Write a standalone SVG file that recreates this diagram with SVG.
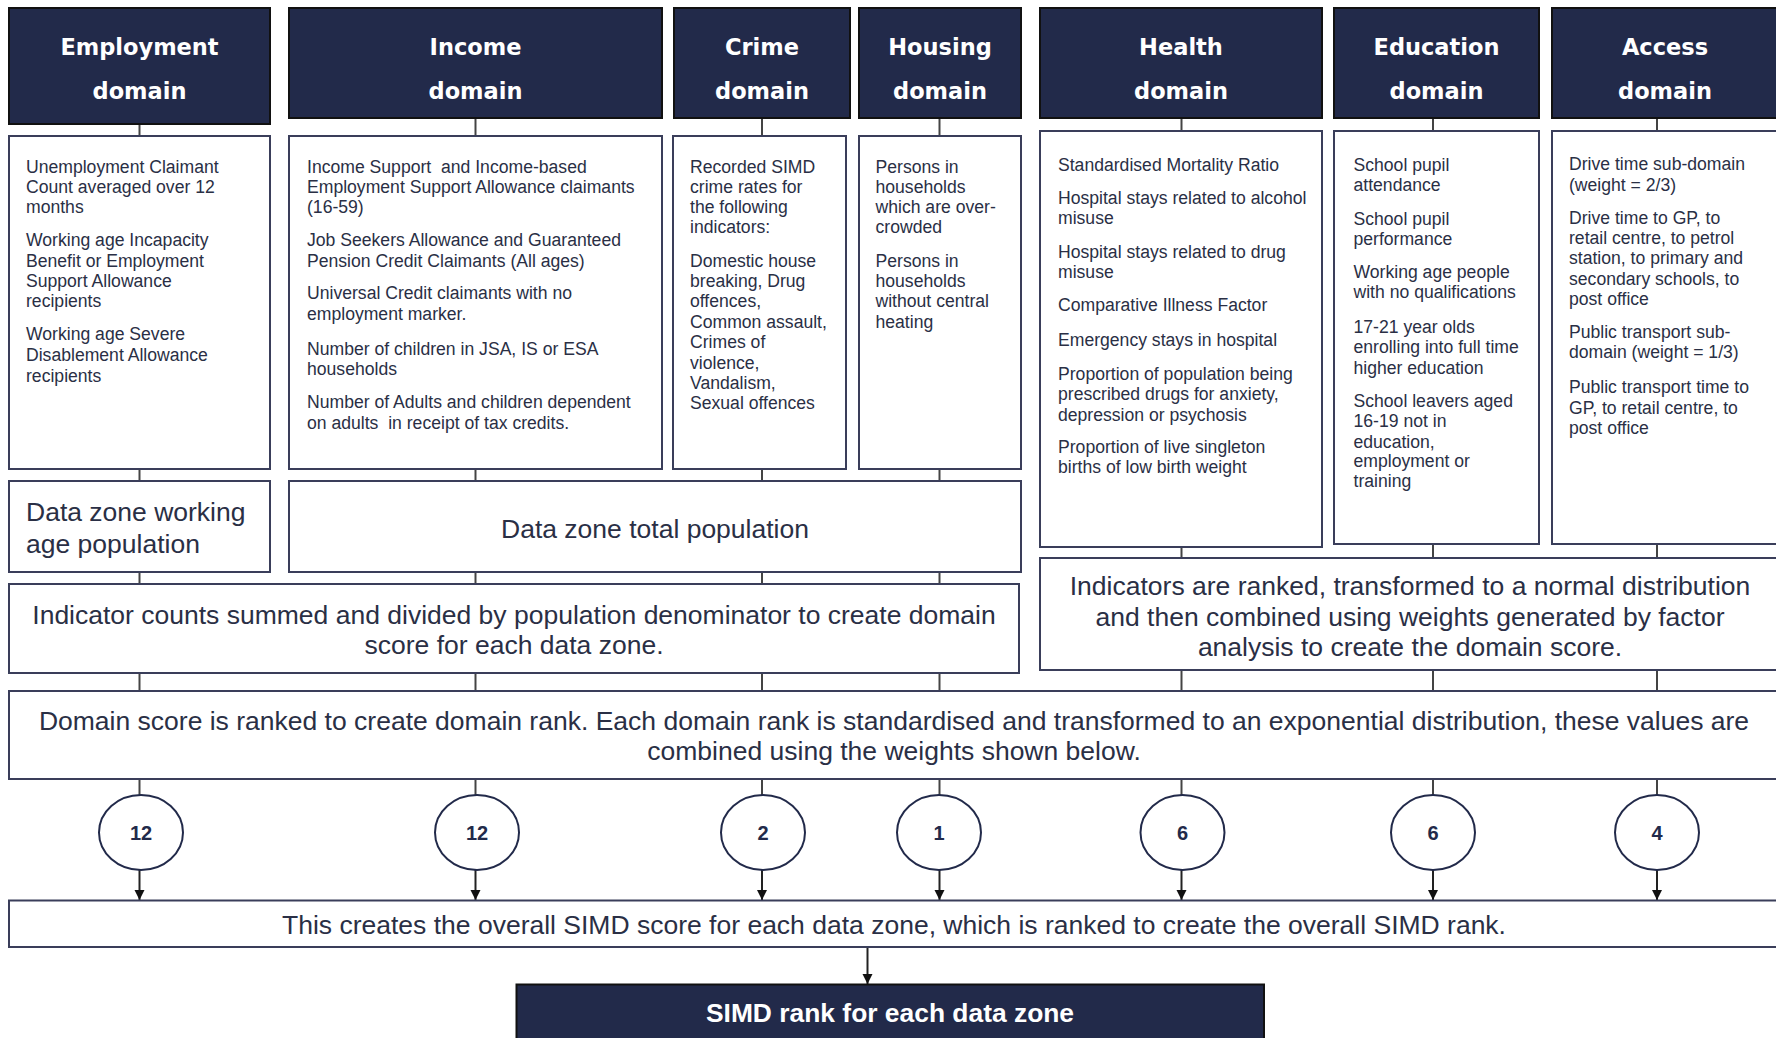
<svg xmlns="http://www.w3.org/2000/svg" width="1776" height="1038" viewBox="0 0 1776 1038">
<style>
.hdr{fill:#222a4a;stroke:#111;stroke-width:2}
.box{fill:#fff;stroke:#3a3e5a;stroke-width:2}
.ht{font-family:"DejaVu Sans",Verdana,sans-serif;font-weight:bold;font-size:22.5px;fill:#fff;text-anchor:middle}
.ct{font-family:"Liberation Sans",Arial,sans-serif;font-size:17.6px;fill:#2a2f45}
.mt{font-family:"Liberation Sans",Arial,sans-serif;font-size:26.5px;fill:#2a2f45}
.mc{text-anchor:middle}
.num{font-family:"Liberation Sans",Arial,sans-serif;font-weight:bold;font-size:20px;fill:#222a4a;text-anchor:middle}
.ln{stroke:#444;stroke-width:2;fill:none}
.ar{stroke:#222;stroke-width:2;fill:none;marker-end:url(#arr)}
.cir{fill:#fff;stroke:#222a4a;stroke-width:2}
.rt{font-family:"Liberation Sans",Arial,sans-serif;font-weight:bold;font-size:26.4px;fill:#fff;text-anchor:middle}
</style>
<defs>
<marker id="arr" markerUnits="userSpaceOnUse" markerWidth="10" markerHeight="12" refX="10" refY="5" orient="auto" viewBox="0 0 10 10">
<path d="M0,0 L10,5 L0,10 z" fill="#111"/>
</marker>
</defs>
<rect width="1776" height="1038" fill="#fff"/>

<g id="connectors">
<line class="ln" x1="139.5" y1="124" x2="139.5" y2="136"/>
<line class="ln" x1="139.5" y1="469" x2="139.5" y2="481"/>
<line class="ln" x1="139.5" y1="572" x2="139.5" y2="584"/>
<line class="ln" x1="139.5" y1="673" x2="139.5" y2="691"/>
<line class="ln" x1="139.5" y1="779" x2="139.5" y2="795"/>
<line class="ar" x1="139.5" y1="870" x2="139.5" y2="900"/>
<line class="ln" x1="475.5" y1="118" x2="475.5" y2="136"/>
<line class="ln" x1="475.5" y1="469" x2="475.5" y2="481"/>
<line class="ln" x1="475.5" y1="572" x2="475.5" y2="584"/>
<line class="ln" x1="475.5" y1="673" x2="475.5" y2="691"/>
<line class="ln" x1="475.5" y1="779" x2="475.5" y2="795"/>
<line class="ar" x1="475.5" y1="870" x2="475.5" y2="900"/>
<line class="ln" x1="762" y1="118" x2="762" y2="136"/>
<line class="ln" x1="762" y1="469" x2="762" y2="481"/>
<line class="ln" x1="762" y1="572" x2="762" y2="584"/>
<line class="ln" x1="762" y1="673" x2="762" y2="691"/>
<line class="ln" x1="762" y1="779" x2="762" y2="795"/>
<line class="ar" x1="762" y1="870" x2="762" y2="900"/>
<line class="ln" x1="939.5" y1="118" x2="939.5" y2="136"/>
<line class="ln" x1="939.5" y1="469" x2="939.5" y2="481"/>
<line class="ln" x1="939.5" y1="572" x2="939.5" y2="584"/>
<line class="ln" x1="939.5" y1="673" x2="939.5" y2="691"/>
<line class="ln" x1="939.5" y1="779" x2="939.5" y2="795"/>
<line class="ar" x1="939.5" y1="870" x2="939.5" y2="900"/>
<line class="ln" x1="1181.5" y1="118" x2="1181.5" y2="131"/>
<line class="ln" x1="1181.5" y1="547" x2="1181.5" y2="558"/>
<line class="ln" x1="1181.5" y1="670" x2="1181.5" y2="691"/>
<line class="ln" x1="1181.5" y1="779" x2="1181.5" y2="795"/>
<line class="ar" x1="1181.5" y1="870" x2="1181.5" y2="900"/>
<line class="ln" x1="1433" y1="118" x2="1433" y2="131"/>
<line class="ln" x1="1433" y1="544" x2="1433" y2="558"/>
<line class="ln" x1="1433" y1="670" x2="1433" y2="691"/>
<line class="ln" x1="1433" y1="779" x2="1433" y2="795"/>
<line class="ar" x1="1433" y1="870" x2="1433" y2="900"/>
<line class="ln" x1="1657" y1="118" x2="1657" y2="131"/>
<line class="ln" x1="1657" y1="544" x2="1657" y2="558"/>
<line class="ln" x1="1657" y1="670" x2="1657" y2="691"/>
<line class="ln" x1="1657" y1="779" x2="1657" y2="795"/>
<line class="ar" x1="1657" y1="870" x2="1657" y2="900"/>
<line class="ar" x1="867.5" y1="947" x2="867.5" y2="984"/>
</g>

<g id="employment-header"><rect class="hdr" x="9" y="8" width="261" height="116"/><text class="ht" x="139.5" y="55">Employment</text><text class="ht" x="139.5" y="99">domain</text></g>
<g id="income-header"><rect class="hdr" x="289" y="8" width="373" height="110"/><text class="ht" x="475.5" y="55">Income</text><text class="ht" x="475.5" y="99">domain</text></g>
<g id="crime-header"><rect class="hdr" x="674" y="8" width="176" height="110"/><text class="ht" x="762" y="55">Crime</text><text class="ht" x="762" y="99">domain</text></g>
<g id="housing-header"><rect class="hdr" x="859" y="8" width="162" height="110"/><text class="ht" x="940" y="55">Housing</text><text class="ht" x="940" y="99">domain</text></g>
<g id="health-header"><rect class="hdr" x="1040" y="8" width="282" height="110"/><text class="ht" x="1181" y="55">Health</text><text class="ht" x="1181" y="99">domain</text></g>
<g id="education-header"><rect class="hdr" x="1334" y="8" width="205" height="110"/><text class="ht" x="1436.5" y="55">Education</text><text class="ht" x="1436.5" y="99">domain</text></g>
<g id="access-header"><rect class="hdr" x="1552" y="8" width="240" height="110"/><text class="ht" x="1665" y="55">Access</text><text class="ht" x="1665" y="99">domain</text></g>

<g id="employment-indicators"><rect class="box" x="9" y="136" width="261" height="333"/>
<text class="ct" x="26"><tspan x="26" y="172.5">Unemployment Claimant</tspan><tspan x="26" y="192.9">Count averaged over 12</tspan><tspan x="26" y="213.3">months</tspan><tspan x="26" y="246.1">Working age Incapacity</tspan><tspan x="26" y="266.5">Benefit or Employment</tspan><tspan x="26" y="286.9">Support Allowance</tspan><tspan x="26" y="307.3">recipients</tspan><tspan x="26" y="340.1">Working age Severe</tspan><tspan x="26" y="360.5">Disablement Allowance</tspan><tspan x="26" y="382">recipients</tspan></text></g>

<g id="income-indicators"><rect class="box" x="289" y="136" width="373" height="333"/>
<text class="ct" x="307" xml:space="preserve"><tspan x="307" y="172.5">Income Support  and Income-based</tspan><tspan x="307" y="192.9">Employment Support Allowance claimants</tspan><tspan x="307" y="213.3">(16-59)</tspan><tspan x="307" y="246.1">Job Seekers Allowance and Guaranteed</tspan><tspan x="307" y="266.5">Pension Credit Claimants (All ages)</tspan><tspan x="307" y="299.4">Universal Credit claimants with no</tspan><tspan x="307" y="319.8">employment marker.</tspan><tspan x="307" y="354.9">Number of children in JSA, IS or ESA</tspan><tspan x="307" y="375.3">households</tspan><tspan x="307" y="408.1">Number of Adults and children dependent</tspan><tspan x="307" y="428.5">on adults  in receipt of tax credits.</tspan></text></g>

<g id="crime-indicators"><rect class="box" x="673" y="136" width="173" height="333"/>
<text class="ct" x="690"><tspan x="690" y="172.5">Recorded SIMD</tspan><tspan x="690" y="192.9">crime rates for</tspan><tspan x="690" y="213.3">the following</tspan><tspan x="690" y="232.5">indicators:</tspan><tspan x="690" y="266.5">Domestic house</tspan><tspan x="690" y="286.9">breaking, Drug</tspan><tspan x="690" y="307.3">offences,</tspan><tspan x="690" y="327.7">Common assault,</tspan><tspan x="690" y="348.1">Crimes of</tspan><tspan x="690" y="368.5">violence,</tspan><tspan x="690" y="388.9">Vandalism,</tspan><tspan x="690" y="409.2">Sexual offences</tspan></text></g>

<g id="housing-indicators"><rect class="box" x="859" y="136" width="162" height="333"/>
<text class="ct" x="875.5"><tspan x="875.5" y="172.5">Persons in</tspan><tspan x="875.5" y="192.9">households</tspan><tspan x="875.5" y="213.3">which are over-</tspan><tspan x="875.5" y="232.5">crowded</tspan><tspan x="875.5" y="266.5">Persons in</tspan><tspan x="875.5" y="286.9">households</tspan><tspan x="875.5" y="307.3">without central</tspan><tspan x="875.5" y="327.7">heating</tspan></text></g>

<g id="health-indicators"><rect class="box" x="1040" y="131" width="282" height="416"/>
<text class="ct" x="1058"><tspan x="1058" y="171.4">Standardised Mortality Ratio</tspan><tspan x="1058" y="204.2">Hospital stays related to alcohol</tspan><tspan x="1058" y="223.5">misuse</tspan><tspan x="1058" y="257.5">Hospital stays related to drug</tspan><tspan x="1058" y="277.8">misuse</tspan><tspan x="1058" y="310.7">Comparative Illness Factor</tspan><tspan x="1058" y="345.8">Emergency stays in hospital</tspan><tspan x="1058" y="379.8">Proportion of population being</tspan><tspan x="1058" y="400.2">prescribed drugs for anxiety,</tspan><tspan x="1058" y="420.6">depression or psychosis</tspan><tspan x="1058" y="453.4">Proportion of live singleton</tspan><tspan x="1058" y="472.7">births of low birth weight</tspan></text></g>

<g id="education-indicators"><rect class="box" x="1334" y="131" width="205" height="413"/>
<text class="ct" x="1353.5"><tspan x="1353.5" y="171.4">School pupil</tspan><tspan x="1353.5" y="190.6">attendance</tspan><tspan x="1353.5" y="224.6">School pupil</tspan><tspan x="1353.5" y="245">performance</tspan><tspan x="1353.5" y="277.8">Working age people</tspan><tspan x="1353.5" y="298.2">with no qualifications</tspan><tspan x="1353.5" y="333.3">17-21 year olds</tspan><tspan x="1353.5" y="352.6">enrolling into full time</tspan><tspan x="1353.5" y="374.1">higher education</tspan><tspan x="1353.5" y="407">School leavers aged</tspan><tspan x="1353.5" y="427.4">16-19 not in</tspan><tspan x="1353.5" y="447.8">education,</tspan><tspan x="1353.5" y="467">employment or</tspan><tspan x="1353.5" y="487.4">training</tspan></text></g>

<g id="access-indicators"><rect class="box" x="1552" y="131" width="240" height="413"/>
<text class="ct" x="1569"><tspan x="1569" y="170.2">Drive time sub-domain</tspan><tspan x="1569" y="190.6">(weight = 2/3)</tspan><tspan x="1569" y="223.5">Drive time to GP, to</tspan><tspan x="1569" y="243.9">retail centre, to petrol</tspan><tspan x="1569" y="264.3">station, to primary and</tspan><tspan x="1569" y="284.6">secondary schools, to</tspan><tspan x="1569" y="305">post office</tspan><tspan x="1569" y="337.9">Public transport sub-</tspan><tspan x="1569" y="358.3">domain (weight = 1/3)</tspan><tspan x="1569" y="393.4">Public transport time to</tspan><tspan x="1569" y="413.8">GP, to retail centre, to</tspan><tspan x="1569" y="434.2">post office</tspan></text></g>

<g id="working-age-population"><rect class="box" x="9" y="481" width="261" height="91"/>
<text class="mt" x="26"><tspan x="26" y="521">Data zone working</tspan><tspan x="26" y="553">age population</tspan></text></g>

<g id="total-population"><rect class="box" x="289" y="481" width="732" height="91"/>
<text class="mt mc" x="655" y="538">Data zone total population</text></g>

<g id="indicator-counts"><rect class="box" x="9" y="584" width="1010" height="89"/>
<text class="mt mc"><tspan x="514" y="624">Indicator counts summed and divided by population denominator to create domain</tspan><tspan x="514" y="653.5">score for each data zone.</tspan></text></g>

<g id="indicators-ranked"><rect class="box" x="1040" y="558" width="752" height="112"/>
<text class="mt mc"><tspan x="1410" y="594.5">Indicators are ranked, transformed to a normal distribution</tspan><tspan x="1410" y="625.5">and then combined using weights generated by factor</tspan><tspan x="1410" y="655.5">analysis to create the domain score.</tspan></text></g>

<g id="domain-score"><rect class="box" x="9" y="691" width="1783" height="88"/>
<text class="mt mc"><tspan x="894" y="729.5">Domain score is ranked to create domain rank. Each domain rank is standardised and transformed to an exponential distribution, these values are</tspan><tspan x="894" y="760">combined using the weights shown below.</tspan></text></g>

<g id="weight-employment"><ellipse class="cir" cx="141" cy="832.5" rx="42" ry="37.5"/><text class="num" x="141" y="839.5">12</text></g>
<g id="weight-income"><ellipse class="cir" cx="477" cy="832.5" rx="42" ry="37.5"/><text class="num" x="477" y="839.5">12</text></g>
<g id="weight-crime"><ellipse class="cir" cx="763" cy="832.5" rx="42" ry="37.5"/><text class="num" x="763" y="839.5">2</text></g>
<g id="weight-housing"><ellipse class="cir" cx="939" cy="832.5" rx="42" ry="37.5"/><text class="num" x="939" y="839.5">1</text></g>
<g id="weight-health"><ellipse class="cir" cx="1182.5" cy="832.5" rx="42" ry="37.5"/><text class="num" x="1182.5" y="839.5">6</text></g>
<g id="weight-education"><ellipse class="cir" cx="1433" cy="832.5" rx="42" ry="37.5"/><text class="num" x="1433" y="839.5">6</text></g>
<g id="weight-access"><ellipse class="cir" cx="1657" cy="832.5" rx="42" ry="37.5"/><text class="num" x="1657" y="839.5">4</text></g>

<g id="overall-score"><rect class="box" x="9" y="900.5" width="1783" height="46.5"/>
<text class="mt mc" x="894" y="933.5">This creates the overall SIMD score for each data zone, which is ranked to create the overall SIMD rank.</text></g>

<g id="simd-rank"><rect class="hdr" x="516.5" y="984.5" width="747.5" height="70"/>
<text class="rt" x="890" y="1022">SIMD rank for each data zone</text></g>
</svg>
